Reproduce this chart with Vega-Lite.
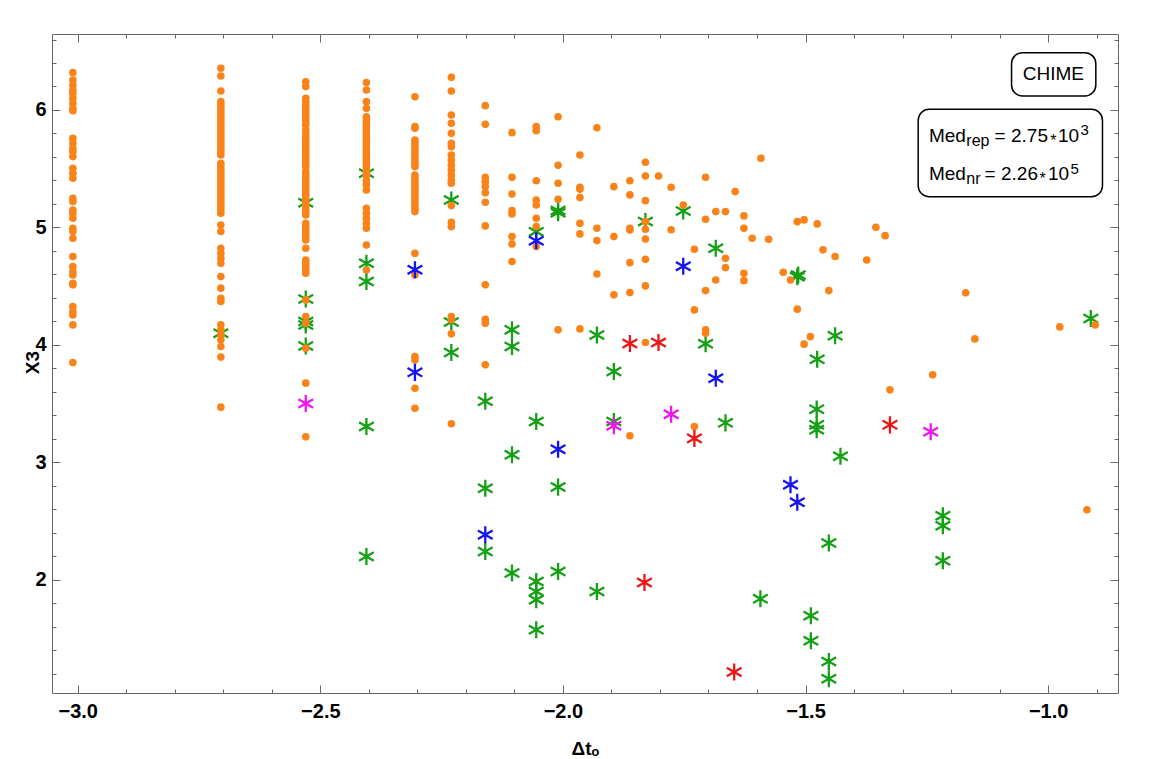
{
  "$schema": "https://vega.github.io/schema/vega-lite/v6.json",
  "width": 1066,
  "height": 659,
  "autosize": "none",
  "padding": {"left": 52, "top": 34, "right": 34, "bottom": 66},
  "background": "white",
  "config": {
    "view": {"stroke": "#666666", "strokeWidth": 1},
    "axis": {"domain": false, "grid": false, "tickColor": "#666666", "tickWidth": 1, "labelFont": "Liberation Sans", "labelFontWeight": "bold", "labelFontSize": 20, "labelColor": "black", "titleFont": "Liberation Sans", "titleFontWeight": "bold", "titleFontSize": 19, "titleColor": "black"},
    "text": {"font": "Liberation Sans", "color": "black", "align": "left", "baseline": "alphabetic"}
  },
  "datasets": {
    "orange": [
      {"x":-3.01,"y":6.318},{"x":-3.01,"y":6.255},{"x":-3.01,"y":6.213},{"x":-3.01,"y":6.17},{"x":-3.01,"y":6.142},{"x":-3.01,"y":6.099},{"x":-3.01,"y":6.057},{"x":-3.01,"y":6.014},{"x":-3.01,"y":5.994},{"x":-3.01,"y":5.759},{"x":-3.01,"y":5.716},{"x":-3.01,"y":5.674},{"x":-3.01,"y":5.645},{"x":-3.01,"y":5.603},{"x":-3.01,"y":5.504},{"x":-3.01,"y":5.461},{"x":-3.01,"y":5.419},{"x":-3.01,"y":5.248},{"x":-3.01,"y":5.22},{"x":-3.01,"y":5.149},{"x":-3.01,"y":5.121},{"x":-3.01,"y":5.078},{"x":-3.01,"y":4.993},{"x":-3.01,"y":4.965},{"x":-3.01,"y":4.908},{"x":-3.01,"y":4.752},{"x":-3.01,"y":4.667},{"x":-3.01,"y":4.624},{"x":-3.01,"y":4.596},{"x":-3.01,"y":4.525},{"x":-3.01,"y":4.511},{"x":-3.01,"y":4.326},{"x":-3.01,"y":4.284},{"x":-3.01,"y":4.255},{"x":-3.01,"y":4.17},{"x":-3.01,"y":3.849},
      {"x":-2.705,"y":6.355},{"x":-2.705,"y":6.289},{"x":-2.705,"y":6.162},{"x":-2.705,"y":6.071},{"x":-2.705,"y":6.043},{"x":-2.705,"y":6.014},{"x":-2.705,"y":5.986},{"x":-2.705,"y":5.957},{"x":-2.705,"y":5.929},{"x":-2.705,"y":5.901},{"x":-2.705,"y":5.872},{"x":-2.705,"y":5.844},{"x":-2.705,"y":5.816},{"x":-2.705,"y":5.787},{"x":-2.705,"y":5.759},{"x":-2.705,"y":5.73},{"x":-2.705,"y":5.702},{"x":-2.705,"y":5.674},{"x":-2.705,"y":5.645},{"x":-2.705,"y":5.617},{"x":-2.705,"y":5.546},{"x":-2.705,"y":5.518},{"x":-2.705,"y":5.489},{"x":-2.705,"y":5.461},{"x":-2.705,"y":5.433},{"x":-2.705,"y":5.404},{"x":-2.705,"y":5.376},{"x":-2.705,"y":5.348},{"x":-2.705,"y":5.319},{"x":-2.705,"y":5.291},{"x":-2.705,"y":5.262},{"x":-2.705,"y":5.234},{"x":-2.705,"y":5.206},{"x":-2.705,"y":5.177},{"x":-2.705,"y":5.149},{"x":-2.705,"y":5.121},{"x":-2.705,"y":5.021},{"x":-2.705,"y":4.965},{"x":-2.705,"y":4.823},{"x":-2.705,"y":4.78},{"x":-2.705,"y":4.738},{"x":-2.705,"y":4.695},{"x":-2.705,"y":4.582},{"x":-2.705,"y":4.483},{"x":-2.705,"y":4.397},{"x":-2.705,"y":4.369},{"x":-2.705,"y":4.17},{"x":-2.705,"y":4.128},{"x":-2.705,"y":4.085},{"x":-2.705,"y":4.043},{"x":-2.705,"y":3.986},{"x":-2.705,"y":3.896},{"x":-2.705,"y":3.47},
      {"x":-2.53,"y":6.241},{"x":-2.53,"y":6.199},{"x":-2.53,"y":6.099},{"x":-2.53,"y":6.071},{"x":-2.53,"y":6.043},{"x":-2.53,"y":6.014},{"x":-2.53,"y":5.986},{"x":-2.53,"y":5.957},{"x":-2.53,"y":5.929},{"x":-2.53,"y":5.901},{"x":-2.53,"y":5.872},{"x":-2.53,"y":5.83},{"x":-2.53,"y":5.801},{"x":-2.53,"y":5.773},{"x":-2.53,"y":5.745},{"x":-2.53,"y":5.716},{"x":-2.53,"y":5.688},{"x":-2.53,"y":5.66},{"x":-2.53,"y":5.631},{"x":-2.53,"y":5.603},{"x":-2.53,"y":5.574},{"x":-2.53,"y":5.546},{"x":-2.53,"y":5.518},{"x":-2.53,"y":5.475},{"x":-2.53,"y":5.447},{"x":-2.53,"y":5.419},{"x":-2.53,"y":5.39},{"x":-2.53,"y":5.362},{"x":-2.53,"y":5.334},{"x":-2.53,"y":5.305},{"x":-2.53,"y":5.277},{"x":-2.53,"y":5.248},{"x":-2.53,"y":5.22},{"x":-2.53,"y":5.191},{"x":-2.53,"y":5.163},{"x":-2.53,"y":5.135},{"x":-2.53,"y":5.106},{"x":-2.53,"y":5.035},{"x":-2.53,"y":5.007},{"x":-2.53,"y":4.979},{"x":-2.53,"y":4.95},{"x":-2.53,"y":4.922},{"x":-2.53,"y":4.894},{"x":-2.53,"y":4.823},{"x":-2.53,"y":4.723},{"x":-2.53,"y":4.695},{"x":-2.53,"y":4.667},{"x":-2.53,"y":4.638},{"x":-2.53,"y":4.61},{"x":-2.53,"y":4.383},{"x":-2.53,"y":4.241},{"x":-2.53,"y":4.185},{"x":-2.53,"y":3.972},{"x":-2.53,"y":3.674},{"x":-2.53,"y":3.217},
      {"x":-2.405,"y":6.233},{"x":-2.405,"y":6.17},{"x":-2.405,"y":6.071},{"x":-2.405,"y":6.014},{"x":-2.405,"y":5.943},{"x":-2.405,"y":5.915},{"x":-2.405,"y":5.887},{"x":-2.405,"y":5.858},{"x":-2.405,"y":5.83},{"x":-2.405,"y":5.801},{"x":-2.405,"y":5.773},{"x":-2.405,"y":5.745},{"x":-2.405,"y":5.716},{"x":-2.405,"y":5.688},{"x":-2.405,"y":5.66},{"x":-2.405,"y":5.631},{"x":-2.405,"y":5.603},{"x":-2.405,"y":5.574},{"x":-2.405,"y":5.546},{"x":-2.405,"y":5.518},{"x":-2.405,"y":5.489},{"x":-2.405,"y":5.447},{"x":-2.405,"y":5.404},{"x":-2.405,"y":5.362},{"x":-2.405,"y":5.319},{"x":-2.405,"y":5.163},{"x":-2.405,"y":5.121},{"x":-2.405,"y":5.078},{"x":-2.405,"y":5.035},{"x":-2.405,"y":4.993},{"x":-2.405,"y":4.851},{"x":-2.405,"y":4.638},
      {"x":-2.305,"y":6.113},{"x":-2.305,"y":5.858},{"x":-2.305,"y":5.844},{"x":-2.305,"y":5.745},{"x":-2.305,"y":5.716},{"x":-2.305,"y":5.688},{"x":-2.305,"y":5.66},{"x":-2.305,"y":5.631},{"x":-2.305,"y":5.603},{"x":-2.305,"y":5.574},{"x":-2.305,"y":5.546},{"x":-2.305,"y":5.518},{"x":-2.305,"y":5.447},{"x":-2.305,"y":5.419},{"x":-2.305,"y":5.39},{"x":-2.305,"y":5.362},{"x":-2.305,"y":5.334},{"x":-2.305,"y":5.305},{"x":-2.305,"y":5.277},{"x":-2.305,"y":5.248},{"x":-2.305,"y":5.22},{"x":-2.305,"y":5.191},{"x":-2.305,"y":5.163},{"x":-2.305,"y":5.135},{"x":-2.305,"y":4.78},{"x":-2.305,"y":4.596},{"x":-2.305,"y":3.901},{"x":-2.305,"y":3.872},{"x":-2.305,"y":3.631},{"x":-2.305,"y":3.461},
      {"x":-2.23,"y":6.278},{"x":-2.23,"y":6.162},{"x":-2.23,"y":5.957},{"x":-2.23,"y":5.887},{"x":-2.23,"y":5.801},{"x":-2.23,"y":5.716},{"x":-2.23,"y":5.688},{"x":-2.23,"y":5.617},{"x":-2.23,"y":5.574},{"x":-2.23,"y":5.532},{"x":-2.23,"y":5.489},{"x":-2.23,"y":5.447},{"x":-2.23,"y":5.404},{"x":-2.23,"y":5.376},{"x":-2.23,"y":5.186},{"x":-2.23,"y":5.044},{"x":-2.23,"y":5.007},{"x":-2.23,"y":4.241},{"x":-2.23,"y":4.213},{"x":-2.23,"y":4.094},{"x":-2.23,"y":3.328},
      {"x":-2.16,"y":6.037},{"x":-2.16,"y":5.878},{"x":-2.16,"y":5.427},{"x":-2.16,"y":5.39},{"x":-2.16,"y":5.348},{"x":-2.16,"y":5.296},{"x":-2.16,"y":5.214},{"x":-2.16,"y":5.013},{"x":-2.16,"y":4.511},{"x":-2.16,"y":4.218},{"x":-2.16,"y":4.185},{"x":-2.16,"y":3.83},
      {"x":-2.105,"y":5.807},{"x":-2.105,"y":5.427},{"x":-2.105,"y":5.285},{"x":-2.105,"y":5.143},{"x":-2.105,"y":5.115},{"x":-2.105,"y":4.922},{"x":-2.105,"y":4.86},{"x":-2.105,"y":4.709},
      {"x":-2.055,"y":5.858},{"x":-2.055,"y":5.824},{"x":-2.055,"y":5.398},{"x":-2.055,"y":5.234},{"x":-2.055,"y":5.191},{"x":-2.055,"y":5.078},{"x":-2.055,"y":5.007},{"x":-2.055,"y":4.837},
      {"x":-2.01,"y":5.943},{"x":-2.01,"y":5.529},{"x":-2.01,"y":5.376},{"x":-2.01,"y":5.24},{"x":-2.01,"y":4.128},
      {"x":-1.965,"y":5.617},{"x":-1.965,"y":5.342},{"x":-1.965,"y":5.325},{"x":-1.965,"y":5.254},{"x":-1.965,"y":5.035},{"x":-1.965,"y":4.945},{"x":-1.965,"y":4.136},
      {"x":-1.93,"y":5.849},{"x":-1.93,"y":4.993},{"x":-1.93,"y":4.888},{"x":-1.93,"y":4.604},
      {"x":-1.895,"y":5.347},{"x":-1.895,"y":4.922},{"x":-1.895,"y":4.426},
      {"x":-1.862,"y":5.398},{"x":-1.862,"y":5.277},{"x":-1.862,"y":4.993},{"x":-1.862,"y":4.979},{"x":-1.862,"y":4.7},{"x":-1.862,"y":4.445},{"x":-1.862,"y":3.226},
      {"x":-1.83,"y":5.555},{"x":-1.83,"y":5.438},{"x":-1.83,"y":5.228},{"x":-1.83,"y":5.05},{"x":-1.83,"y":4.985},{"x":-1.83,"y":4.902},{"x":-1.83,"y":4.729},{"x":-1.83,"y":4.502},{"x":-1.83,"y":4.02},
      {"x":-1.803,"y":5.438},
      {"x":-1.777,"y":5.342},{"x":-1.777,"y":4.98},
      {"x":-1.752,"y":5.19},
      {"x":-1.729,"y":4.814},{"x":-1.729,"y":4.298},{"x":-1.729,"y":3.305},
      {"x":-1.706,"y":5.427},{"x":-1.706,"y":5.07},{"x":-1.706,"y":4.462},{"x":-1.706,"y":4.128},{"x":-1.706,"y":4.1},
      {"x":-1.685,"y":5.135},{"x":-1.685,"y":4.553},
      {"x":-1.665,"y":5.135},{"x":-1.665,"y":4.738},{"x":-1.665,"y":4.658},
      {"x":-1.645,"y":5.305},
      {"x":-1.627,"y":5.098},{"x":-1.627,"y":4.993},{"x":-1.627,"y":4.61},{"x":-1.627,"y":4.547},
      {"x":-1.61,"y":4.908},
      {"x":-1.592,"y":5.589},
      {"x":-1.576,"y":4.899},
      {"x":-1.546,"y":4.619},
      {"x":-1.531,"y":4.553},
      {"x":-1.517,"y":5.049},{"x":-1.517,"y":4.304},
      {"x":-1.503,"y":5.064},{"x":-1.503,"y":4.006},
      {"x":-1.49,"y":4.07},
      {"x":-1.476,"y":5.03},
      {"x":-1.464,"y":4.809},
      {"x":-1.452,"y":4.462},
      {"x":-1.439,"y":4.752},
      {"x":-1.374,"y":4.723},
      {"x":-1.355,"y":5.002},
      {"x":-1.336,"y":4.93},
      {"x":-1.326,"y":3.617},
      {"x":-1.238,"y":3.745},
      {"x":-1.17,"y":4.443},
      {"x":-1.151,"y":4.051},
      {"x":-0.976,"y":4.153},
      {"x":-0.903,"y":4.17},
      {"x":-0.92,"y":2.596}
    ],
    "green": [
      {"x":-2.705,"y":4.1},
      {"x":-2.53,"y":5.21},{"x":-2.53,"y":4.39},{"x":-2.53,"y":4.2},{"x":-2.53,"y":4.17},{"x":-2.53,"y":3.99},
      {"x":-2.405,"y":5.461},{"x":-2.405,"y":4.695},{"x":-2.405,"y":4.539},{"x":-2.405,"y":3.305},{"x":-2.405,"y":2.198},
      {"x":-2.23,"y":5.234},{"x":-2.23,"y":4.195},{"x":-2.23,"y":3.936},
      {"x":-2.16,"y":3.52},{"x":-2.16,"y":2.78},{"x":-2.16,"y":2.241},
      {"x":-2.105,"y":4.128},{"x":-2.105,"y":3.987},{"x":-2.105,"y":3.064},{"x":-2.105,"y":2.057},
      {"x":-2.055,"y":4.964},{"x":-2.055,"y":3.347},{"x":-2.055,"y":1.986},{"x":-2.055,"y":1.9},{"x":-2.055,"y":1.83},{"x":-2.055,"y":1.574},
      {"x":-2.01,"y":5.125},{"x":-2.01,"y":5.145},{"x":-2.01,"y":2.789},{"x":-2.01,"y":2.071},
      {"x":-1.93,"y":4.085},{"x":-1.93,"y":1.9},
      {"x":-1.895,"y":3.773},{"x":-1.895,"y":3.347},
      {"x":-1.83,"y":5.05},
      {"x":-1.752,"y":5.14},
      {"x":-1.706,"y":4.009},
      {"x":-1.685,"y":4.823},
      {"x":-1.665,"y":3.336},
      {"x":-1.593,"y":1.838},
      {"x":-1.517,"y":4.58},{"x":-1.515,"y":4.595},
      {"x":-1.476,"y":3.878},{"x":-1.477,"y":3.453},{"x":-1.477,"y":3.319},{"x":-1.477,"y":3.277},
      {"x":-1.489,"y":1.694},{"x":-1.489,"y":1.481},
      {"x":-1.439,"y":4.077},
      {"x":-1.428,"y":3.052},
      {"x":-1.452,"y":2.313},{"x":-1.452,"y":1.305},{"x":-1.452,"y":1.157},
      {"x":-1.217,"y":2.545},{"x":-1.217,"y":2.46},{"x":-1.217,"y":2.162},
      {"x":-0.912,"y":4.225}
    ],
    "blue": [
      {"x":-2.305,"y":4.64},{"x":-2.305,"y":3.766},{"x":-2.16,"y":2.383},{"x":-2.055,"y":4.887},{"x":-2.01,"y":3.112},{"x":-1.752,"y":4.67},{"x":-1.685,"y":3.716},{"x":-1.531,"y":2.809},{"x":-1.517,"y":2.661}
    ],
    "red": [
      {"x":-1.862,"y":4.012},{"x":-1.803,"y":4.02},{"x":-1.832,"y":1.977},{"x":-1.729,"y":3.204},{"x":-1.647,"y":1.214},{"x":-1.326,"y":3.319}
    ],
    "magenta": [
      {"x":-2.53,"y":3.5},{"x":-1.895,"y":3.311},{"x":-1.777,"y":3.41},{"x":-1.242,"y":3.26}
    ],
    "one": [{"k": 1}]
  },
  "resolve": {"axis": {"x": "independent", "y": "independent"}},
  "layer": [
    {
      "data": {"name": "green"},
      "mark": {"type": "point", "shape": "M0,-1L0,1M-0.866,-0.5L0.866,0.5M-0.866,0.5L0.866,-0.5", "filled": false, "stroke": "#14a014", "strokeWidth": 2.3, "size": 290, "opacity": 1},
      "encoding": {
        "x": {"field": "x", "type": "quantitative", "scale": {"domain": [-3.053, -0.856], "nice": false, "zero": false},
          "axis": {"orient": "bottom", "title": "Δtₒ", "titlePadding": 14,
            "values": [-3.0,-2.9,-2.8,-2.7,-2.6,-2.5,-2.4,-2.3,-2.2,-2.1,-2.0,-1.9,-1.8,-1.7,-1.6,-1.5,-1.4,-1.3,-1.2,-1.1,-1.0,-0.9],
            "labelExpr": "abs(datum.value*2 - round(datum.value*2)) < 0.001 ? format(datum.value, '.1f') : ''",
            "tickSize": {"condition": {"test": "abs(datum.value*2 - round(datum.value*2)) < 0.001", "value": -8}, "value": -4},
            "labelPadding": 16, "labelFlush": false, "labelOverlap": false}},
        "y": {"field": "y", "type": "quantitative", "scale": {"domain": [1.036, 6.647], "nice": false, "zero": false},
          "axis": {"orient": "left", "title": "X3", "titleX": -10, "titleY": 328, "titleAlign": "center", "titleBaseline": "bottom", "titleAngle": 270,
            "values": [1.2,1.4,1.6,1.8,2.0,2.2,2.4,2.6,2.8,3.0,3.2,3.4,3.6,3.8,4.0,4.2,4.4,4.6,4.8,5.0,5.2,5.4,5.6,5.8,6.0,6.2,6.4,6.6],
            "labelExpr": "abs(datum.value - round(datum.value)) < 0.001 ? format(datum.value, 'd') : ''",
            "tickSize": {"condition": {"test": "abs(datum.value - round(datum.value)) < 0.001", "value": -8}, "value": -4},
            "labelPadding": 14, "labelFlush": false, "labelOverlap": false}}
      }
    },
    {
      "data": {"name": "orange"},
      "mark": {"type": "circle", "color": "#f98318", "size": 58, "opacity": 1},
      "encoding": {
        "x": {"field": "x", "type": "quantitative", "scale": {"domain": [-3.053, -0.856], "nice": false, "zero": false},
          "axis": {"orient": "top", "title": null, "labels": false,
            "values": [-3.0,-2.9,-2.8,-2.7,-2.6,-2.5,-2.4,-2.3,-2.2,-2.1,-2.0,-1.9,-1.8,-1.7,-1.6,-1.5,-1.4,-1.3,-1.2,-1.1,-1.0,-0.9],
            "tickSize": {"condition": {"test": "abs(datum.value*2 - round(datum.value*2)) < 0.001", "value": -8}, "value": -4}}},
        "y": {"field": "y", "type": "quantitative", "scale": {"domain": [1.036, 6.647], "nice": false, "zero": false},
          "axis": {"orient": "right", "title": null, "labels": false,
            "values": [1.2,1.4,1.6,1.8,2.0,2.2,2.4,2.6,2.8,3.0,3.2,3.4,3.6,3.8,4.0,4.2,4.4,4.6,4.8,5.0,5.2,5.4,5.6,5.8,6.0,6.2,6.4,6.6],
            "tickSize": {"condition": {"test": "abs(datum.value - round(datum.value)) < 0.001", "value": -8}, "value": -4}}}
      }
    },
    {
      "data": {"name": "blue"},
      "mark": {"type": "point", "shape": "M0,-1L0,1M-0.866,-0.5L0.866,0.5M-0.866,0.5L0.866,-0.5", "filled": false, "stroke": "#1414ee", "strokeWidth": 2.3, "size": 290, "opacity": 1},
      "encoding": {
        "x": {"field": "x", "type": "quantitative", "axis": null},
        "y": {"field": "y", "type": "quantitative", "axis": null}
      }
    },
    {
      "data": {"name": "red"},
      "mark": {"type": "point", "shape": "M0,-1L0,1M-0.866,-0.5L0.866,0.5M-0.866,0.5L0.866,-0.5", "filled": false, "stroke": "#ee1414", "strokeWidth": 2.3, "size": 290, "opacity": 1},
      "encoding": {
        "x": {"field": "x", "type": "quantitative", "axis": null},
        "y": {"field": "y", "type": "quantitative", "axis": null}
      }
    },
    {
      "data": {"name": "magenta"},
      "mark": {"type": "point", "shape": "M0,-1L0,1M-0.866,-0.5L0.866,0.5M-0.866,0.5L0.866,-0.5", "filled": false, "stroke": "#f014f0", "strokeWidth": 2.3, "size": 290, "opacity": 1},
      "encoding": {
        "x": {"field": "x", "type": "quantitative", "axis": null},
        "y": {"field": "y", "type": "quantitative", "axis": null}
      }
    },
    {
      "data": {"name": "one"},
      "mark": {"type": "rect", "fill": "white", "stroke": "black", "strokeWidth": 1.5, "cornerRadius": 11},
      "encoding": {
        "x": {"datum": -1.0754, "type": "quantitative", "axis": null},
        "x2": {"datum": -0.9017},
        "y": {"datum": 6.488, "type": "quantitative", "axis": null},
        "y2": {"datum": 6.119}
      }
    },
    {
      "data": {"name": "one"},
      "mark": {"type": "rect", "fill": "white", "stroke": "black", "strokeWidth": 1.5, "cornerRadius": 11},
      "encoding": {
        "x": {"datum": -1.2678, "type": "quantitative", "axis": null},
        "x2": {"datum": -0.888},
        "y": {"datum": 6.006, "type": "quantitative", "axis": null},
        "y2": {"datum": 5.262}
      }
    },
    {
      "data": {"name": "one"},
      "mark": {"type": "text", "text": "CHIME", "fontSize": 19, "align": "center", "baseline": "middle"},
      "encoding": {"x": {"datum": -0.9893, "type": "quantitative", "axis": null}, "y": {"datum": 6.304, "type": "quantitative", "axis": null}}
    },
    {
      "data": {"name": "one"},
      "mark": {"type": "text", "text": "Med", "fontSize": 19},
      "encoding": {"x": {"datum": -1.2457, "type": "quantitative", "axis": null}, "y": {"datum": 5.728, "type": "quantitative", "axis": null}}
    },
    {
      "data": {"name": "one"},
      "mark": {"type": "text", "text": "rep", "fontSize": 16, "dx": 37.4, "dy": 4.5},
      "encoding": {"x": {"datum": -1.2457, "type": "quantitative", "axis": null}, "y": {"datum": 5.728, "type": "quantitative", "axis": null}}
    },
    {
      "data": {"name": "one"},
      "mark": {"type": "text", "text": "= 2.75", "fontSize": 19, "dx": 65.7},
      "encoding": {"x": {"datum": -1.2457, "type": "quantitative", "axis": null}, "y": {"datum": 5.728, "type": "quantitative", "axis": null}}
    },
    {
      "data": {"name": "one"},
      "mark": {"type": "text", "text": "*", "fontSize": 16, "dx": 121.4, "dy": 4.5},
      "encoding": {"x": {"datum": -1.2457, "type": "quantitative", "axis": null}, "y": {"datum": 5.728, "type": "quantitative", "axis": null}}
    },
    {
      "data": {"name": "one"},
      "mark": {"type": "text", "text": "10", "fontSize": 19, "dx": 129},
      "encoding": {"x": {"datum": -1.2457, "type": "quantitative", "axis": null}, "y": {"datum": 5.728, "type": "quantitative", "axis": null}}
    },
    {
      "data": {"name": "one"},
      "mark": {"type": "text", "text": "3", "fontSize": 15, "dx": 151.5, "dy": -6.5},
      "encoding": {"x": {"datum": -1.2457, "type": "quantitative", "axis": null}, "y": {"datum": 5.728, "type": "quantitative", "axis": null}}
    },
    {
      "data": {"name": "one"},
      "mark": {"type": "text", "text": "Med", "fontSize": 19},
      "encoding": {"x": {"datum": -1.2457, "type": "quantitative", "axis": null}, "y": {"datum": 5.404, "type": "quantitative", "axis": null}}
    },
    {
      "data": {"name": "one"},
      "mark": {"type": "text", "text": "nr", "fontSize": 16, "dx": 37.4, "dy": 4.5},
      "encoding": {"x": {"datum": -1.2457, "type": "quantitative", "axis": null}, "y": {"datum": 5.404, "type": "quantitative", "axis": null}}
    },
    {
      "data": {"name": "one"},
      "mark": {"type": "text", "text": "= 2.26", "fontSize": 19, "dx": 55.7},
      "encoding": {"x": {"datum": -1.2457, "type": "quantitative", "axis": null}, "y": {"datum": 5.404, "type": "quantitative", "axis": null}}
    },
    {
      "data": {"name": "one"},
      "mark": {"type": "text", "text": "*", "fontSize": 16, "dx": 110.7, "dy": 4.5},
      "encoding": {"x": {"datum": -1.2457, "type": "quantitative", "axis": null}, "y": {"datum": 5.404, "type": "quantitative", "axis": null}}
    },
    {
      "data": {"name": "one"},
      "mark": {"type": "text", "text": "10", "fontSize": 19, "dx": 119},
      "encoding": {"x": {"datum": -1.2457, "type": "quantitative", "axis": null}, "y": {"datum": 5.404, "type": "quantitative", "axis": null}}
    },
    {
      "data": {"name": "one"},
      "mark": {"type": "text", "text": "5", "fontSize": 15, "dx": 141.5, "dy": -5.5},
      "encoding": {"x": {"datum": -1.2457, "type": "quantitative", "axis": null}, "y": {"datum": 5.404, "type": "quantitative", "axis": null}}
    }
  ]
}
